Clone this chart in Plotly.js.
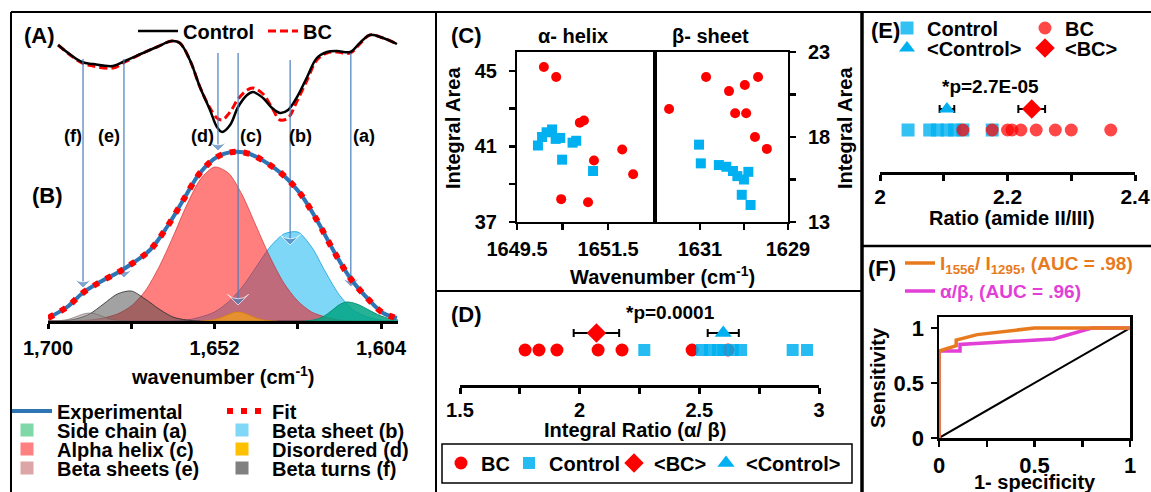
<!DOCTYPE html>
<html><head><meta charset="utf-8">
<script src="https://cdn.plot.ly/plotly-3.0.1.min.js"></script>
<style>html,body{margin:0;padding:0;background:#fff}#chart{width:1151px;height:492px}</style>
</head><body><div id="chart"></div>
<script>
// ================= DATA =================
// Panel A: spectra (wavenumber, relative height)
const specWn = [1697.1,1690.2,1687.0,1681.3,1677.8,1672.6,1668.6,1664.3,1662.0,1659.1,1656.2,1653.3,1651.3,1649.8,1647.5,1645.2,1642.6,1640.9,1638.0,1635.4,1633.1,1630.8,1628.2,1625.3,1622.5,1619.6,1616.7,1612.9,1610.1,1607.2,1603.4,1599.4];
const specControl = [95,78,76,74,79,87,93,99,97,80,53,30,13,8,15,33,45,48,42,32,27,30,43,63,82,88,89,88,97,105,102,96];
const specBC      = [95,77,74,72,78,87,93,99,97,80,53,32,22,20,28,41,50,52,46,32,20,22,39,60,80,87,88,87,96,105,102,96];

// Panel B: band fitting
const fitWn  = [1700,1694.5,1690,1685,1680.1,1675.5,1670.6,1665.7,1661,1656.2,1651.3,1646.7,1641.8,1636.9,1632.2,1627.4,1622.5,1617.8,1612.9,1608,1603.4,1599.4];
const expVal = [3,14,28,39,48,58,71,94,121,148,164,169,167,158,146,128,101,71,43,23,8,3];
const fitVal = [3,14,28,39,48,58,71,94,121,148,164,169,167,158,146,128,101,71,43,23,8,3];
const wnGrid = [1700,1696,1692,1688,1684,1680,1676,1672,1668,1664,1660,1656,1652,1648,1644,1640,1636,1632,1628,1624,1620,1616,1612,1608,1604,1600];
const alphaHelixC = [0,0,0,1,3,7,15,30,54,84,116,142,154,148,126,95,64,38,20,9,4,1,0,0,0,0];
const betaSheetB  = [0,0,0,0,0,0,0,0,0,0,1,4,9,19,34,54,74,87,89,74,49,26,11,4,1,0];
const betaTurnsBig = [0,0,2,7,17,27,30,22,12,4,1,0,0,0,0,0,0,0,0,0,0,0,0,0,0,0];
const smallWn  = [1700,1698,1696,1694,1692,1690,1688,1686,1684,1682,1680,1678,1676];
const smallVal = [0,0.1,0.6,1.8,4.2,6.8,8,6.8,4.2,1.8,0.6,0.1,0];
const sideWn  = [1626,1624,1622,1620,1618,1616,1614,1612,1610,1608,1606,1604,1602,1600,1599];
const sideVal = [0,0.7,2.3,5.7,11,16.3,19,18.1,15.6,11.9,8.2,5.0,2.8,1.4,1];
const disWn  = [1656,1654,1652,1650,1648,1646,1644,1642,1640,1638,1636,1634];
const disVal = [0,0.4,1.4,3.5,6.5,8.8,8.5,5.9,3.0,1.1,0.3,0];
const bandWn    = [1612.7,1630.2,1645.2,1651.0,1678.1,1689.9];
const bandLabel = ['(a)','(b)','(c)','(d)','(e)','(f)'];
const arrowTop  = [268,261,268,268,262,262];
const arrowTip  = [34,76,16,170,43,33];
const bTickVals = [1700,1652,1604];
const bTickText = ['1,700','1,652','1,604'];
const bMinorTicks = [1676,1628];

// Panel C
const cAlphaBCx = [1650.09,1650.36,1650.88,1650.97,1651.81,1651.19,1652.05,1650.47,1651.06];
const cAlphaBCy = [45.21,44.68,42.26,42.37,40.84,40.26,39.53,38.21,38.05];
const cAlphaCtrlx = [1649.96,1650.05,1650.15,1650.27,1650.35,1650.45,1650.72,1650.8,1650.49,1651.17];
const cAlphaCtrly = [41.05,41.5,41.75,41.9,41.4,41.45,41.2,41.3,40.3,39.7];
const cBetaBCx = [1631.70,1630.86,1630.34,1629.98,1629.68,1630.2,1629.95,1629.75,1629.48];
const cBetaBCy = [19.65,21.53,20.7,21.06,21.53,19.4,19.4,18.0,17.3];
const cBetaCtrlx = [1631.02,1630.98,1630.57,1630.4,1630.25,1630.15,1630.0,1629.9,1630.05,1629.85];
const cBetaCtrly = [17.55,16.45,16.35,16.25,16.0,15.7,15.5,15.95,14.6,14.0];
const cAlphaTicks = [1649.5,1651.5], cAlphaTickText = ['1649.5','1651.5'], cAlphaMinor = [1650.5];
const cBetaTicks = [1631,1629], cBetaTickText = ['1631','1629'], cBetaMinor = [1630];
const cLeftTicks = [37,41,45], cLeftTickText = ['37','41','45'], cLeftMinor = [39,43];
const cRightTicks = [13,18,23], cRightTickText = ['13','18','23'], cRightMinor = [15.5,20.5];

// Panel D
const dBC = [1.772,1.83,1.905,2.077,2.177,2.47,2.62];
const dCtrl = [2.27,2.511,2.545,2.578,2.60,2.64,2.674,2.89,2.95];
const dMeanBC = [2.07], dErrBC = [0.095];
const dMeanCtrl = [2.60], dErrCtrl = [0.065];
const dTicks = [1.5,2,2.5,3], dTickText = ['1.5','2','2.5','3'], dMinor = [1.75,2.25,2.75];

// Panel E
const eCtrl = [2.044,2.078,2.09,2.105,2.117,2.13,2.176];
const eBC = [2.13,2.176,2.20,2.207,2.221,2.245,2.275,2.30,2.362];
const eMeanCtrl = [2.105], eErrCtrl = [0.0115];
const eMeanBC = [2.238], eErrBC = [0.021];
const eTicks = [2,2.2,2.4], eTickText = ['2','2.2','2.4'], eMinor = [2.1,2.3];

// Panel F (ROC)
const rocRatioX = [0,0,0.09,0.09,0.2,0.5,1];
const rocRatioY = [0,0.79,0.84,0.89,0.94,1,1];
const rocAlphaBetaX = [0,0,0.11,0.11,0.6,0.8,1];
const rocAlphaBetaY = [0,0.79,0.79,0.85,0.9,1,1];
const rocChanceX = [0,1], rocChanceY = [0,1];
const fTicksX = [0,0.5,1], fTickTextX = ['0','0.5','1'], fMinorX = [0.25,0.75];
const fTicksY = [0,0.5,1], fTickTextY = ['0','0.5','1'];

// ================= LAYOUT HELPERS =================
const W = 1151, H = 492;
const FONT = 'Liberation Sans, Arial, Helvetica, sans-serif';
const fnt = (size, color) => ({family: FONT, size: size, color: color || '#000', weight: 'bold'});
const px = v => v / W, py = v => 1 - v / H;
const domX = (a, b) => [px(a), px(b)];
const domY = (bottom, top) => [py(bottom), py(top)];
const RED = '#FF0000', BLUE = '#00B0F0', ARROW = '#4A7EBB';
const ROW_POINTS = 1, ROW_MEAN = 2;

const layout = {
  width: W, height: H,
  margin: {l: 0, r: 0, t: 0, b: 0, pad: 0, autoexpand: false},
  paper_bgcolor: '#fff', plot_bgcolor: 'rgba(0,0,0,0)',
  showlegend: true, hovermode: false,
  annotations: [], shapes: []
};
function axisBase(o, minorVals) {
  const a = Object.assign({showgrid: false, zeroline: false, showline: true, linecolor: '#000',
    tickcolor: '#000', tickmode: 'array', fixedrange: true}, o);
  if (minorVals) a.minor = {tickmode: 'array', tickvals: minorVals, ticks: a.ticks, ticklen: a.ticklen, tickwidth: a.tickwidth, tickcolor: '#000', showgrid: false};
  return a;
}
layout.xaxis = axisBase({domain: domX(48, 398), range: [1700, 1599.1], anchor: 'y2', linewidth: 3,
  ticks: 'outside', ticklen: 5, tickwidth: 3, tickvals: bTickVals, ticktext: bTickText, tickfont: fnt(20), ticklabelstandoff: 2}, bMinorTicks);
layout.yaxis = {domain: domY(140, 30), range: [0, 110], visible: false, fixedrange: true};
// B axis spans up into panel A so the band arrows can start there
layout.yaxis2 = {domain: domY(321, 30), range: [0, 291], visible: false, fixedrange: true};

layout.xaxis2 = axisBase({domain: domX(517, 655), range: [1649.5, 1652.53], anchor: 'y3', linewidth: 2, mirror: true,
  ticks: 'outside', ticklen: 6, tickwidth: 2.5, tickvals: cAlphaTicks, ticktext: cAlphaTickText, tickfont: fnt(20), ticklabelstandoff: 2}, cAlphaMinor);
layout.yaxis3 = axisBase({domain: domY(222, 52), range: [37, 46], anchor: 'x2', linewidth: 2, mirror: true,
  ticks: 'outside', ticklen: 6, tickwidth: 2.5, tickvals: cLeftTicks, ticktext: cLeftTickText, tickfont: fnt(20), ticklabelstandoff: 8}, cLeftMinor);
layout.xaxis3 = axisBase({domain: domX(655, 788), range: [1632.02, 1629], anchor: 'y4', linewidth: 2, mirror: true,
  ticks: 'outside', ticklen: 6, tickwidth: 2.5, tickvals: cBetaTicks, ticktext: cBetaTickText, tickfont: fnt(20), ticklabelstandoff: 2}, cBetaMinor);
layout.yaxis4 = axisBase({domain: domY(222, 52), range: [13, 23], anchor: 'x3', side: 'right', linewidth: 2, mirror: true,
  ticks: 'outside', ticklen: 6, tickwidth: 2.5, tickvals: cRightTicks, ticktext: cRightTickText, tickfont: fnt(20), ticklabelstandoff: 8}, cRightMinor);

layout.xaxis4 = axisBase({domain: domX(460, 819), range: [1.5, 3], anchor: 'y5', linewidth: 3,
  ticks: 'outside', ticklen: 6, tickwidth: 3, tickvals: dTicks, ticktext: dTickText, tickfont: fnt(20), ticklabelstandoff: -1}, dMinor);
layout.yaxis5 = {domain: domY(385, 300), range: [-1.0588, 3.941], visible: false, fixedrange: true};

layout.xaxis5 = axisBase({domain: domX(880, 1135), range: [2, 2.4], anchor: 'y6', linewidth: 3,
  ticks: 'outside', ticklen: 6, tickwidth: 3, tickvals: eTicks, ticktext: eTickText, tickfont: fnt(21), ticklabelstandoff: -2}, eMinor);
layout.yaxis6 = {domain: domY(172, 60), range: [-1, 4.333], visible: false, fixedrange: true};

layout.xaxis6 = axisBase({domain: domX(939, 1130), range: [0, 1], anchor: 'y7', linewidth: 2.5, mirror: true, layer: 'below traces',
  ticks: 'outside', ticklen: 6, tickwidth: 2.5, tickvals: fTicksX, ticktext: fTickTextX, tickfont: fnt(22), ticklabelstandoff: 0}, fMinorX);
layout.yaxis7 = axisBase({domain: domY(438, 317), range: [0, 1.1], anchor: 'x6', linewidth: 2.5, mirror: true, layer: 'below traces',
  ticks: 'outside', ticklen: 6, tickwidth: 2.5, tickvals: fTicksY, ticktext: fTickTextY, tickfont: fnt(22), ticklabelstandoff: 2});

// twin axes give ticks that cross the axis line (inside half)
function twin(baseKey, newKey) {
  const b = layout[baseKey];
  const vals = b.tickvals.concat(b.minor ? b.minor.tickvals : []);
  layout[newKey] = {overlaying: baseKey.replace('axis', ''), anchor: b.anchor, side: b.side, range: b.range,
    tickmode: 'array', tickvals: vals, ticks: 'inside', ticklen: b.ticklen, tickwidth: b.tickwidth,
    tickcolor: '#000', showticklabels: false, showline: false, showgrid: false, zeroline: false, fixedrange: true};
}
twin('xaxis', 'xaxis7'); twin('xaxis2', 'xaxis8'); twin('xaxis3', 'xaxis9');
twin('yaxis3', 'yaxis8'); twin('yaxis4', 'yaxis9');
twin('xaxis4', 'xaxis10'); twin('xaxis5', 'xaxis11');

// per-item legends placed by text-left and row centre (px)
let legendN = 0;
function legendAt(textLeft, centerY, fs, itemwidth, color) {
  legendN++;
  const id = legendN === 1 ? 'legend' : 'legend' + legendN;
  const h = 1.3 * fs + 3;
  layout[id] = {x: (textLeft - itemwidth - 10) / W, y: 1 - (centerY - h / 2 - 5) / H, xanchor: 'left', yanchor: 'top',
    bgcolor: 'rgba(0,0,0,0)', borderwidth: 0, font: fnt(fs, color), itemwidth: itemwidth, orientation: 'v',
    itemclick: false, itemdoubleclick: false, tracegroupgap: 0};
  return id;
}

// ================= TRACES =================
const traces = [];
const add = t => traces.push(Object.assign({type: 'scatter', showlegend: false, hoverinfo: 'skip'}, t));

// Panel A
add({x: specWn, y: specBC, xaxis: 'x', yaxis: 'y', mode: 'lines', name: 'BC',
  line: {color: RED, width: 3, dash: '8px,4px', shape: 'spline'}, showlegend: true, legend: legendAt(303, 31, 20, 30)});
add({x: specWn, y: specControl, xaxis: 'x', yaxis: 'y', mode: 'lines', name: 'Control',
  line: {color: '#000', width: 2.5, shape: 'spline'}, showlegend: true, legend: legendAt(183, 31, 20, 40)});

// Panel B fills
const fills = [
  [wnGrid, betaSheetB, 'rgba(0,176,240,0.5)', 'rgba(0,150,220,0.7)'],
  [wnGrid, alphaHelixC, 'rgba(255,0,0,0.5)', 'rgba(200,30,30,0.6)'],
  [wnGrid, betaTurnsBig, 'rgba(70,70,70,0.5)', 'rgba(40,40,40,0.8)'],
  [smallWn, smallVal, 'rgba(150,135,135,0.5)', 'rgba(110,100,100,0.6)'],
  [sideWn, sideVal, 'rgba(0,165,130,0.85)', 'rgba(0,140,110,0.9)'],
  [disWn, disVal, 'rgba(255,170,0,0.6)', 'rgba(220,130,0,0.7)']
];
fills.forEach(([x, y, fc, lc]) => add({x, y, xaxis: 'x', yaxis: 'y2', mode: 'lines', fill: 'tozeroy', fillcolor: fc,
  line: {color: lc, width: 1, shape: 'spline', smoothing: 0.8}}));
// band arrows from panel A down to the components
bandWn.forEach((w, i) => add({x: [w, w], y: [arrowTop[i], arrowTip[i]], xaxis: 'x', yaxis: 'y2', mode: 'lines+markers',
  line: {color: ARROW, width: 1.2}, marker: {symbol: 'arrow-wide', size: [0, 15], angleref: 'previous', color: ARROW}, cliponaxis: false}));
add({x: fitWn, y: expVal, xaxis: 'x', yaxis: 'y2', mode: 'lines', name: 'Experimental',
  line: {color: '#2E75B6', width: 4, shape: 'spline'}, showlegend: true, legend: legendAt(57, 411, 20, 40)});
add({x: fitWn, y: fitVal, xaxis: 'x', yaxis: 'y2', mode: 'lines', name: 'Fit',
  line: {color: RED, width: 6, dash: '6px,8px', shape: 'spline'}, showlegend: true, legend: legendAt(272, 411, 20, 40)});
const swatches = [
  ['Side chain (a)', '#80D8A8', 57, 430], ['Beta sheet (b)', '#80D8F6', 272, 430],
  ['Alpha helix (c)', '#FF8080', 57, 449], ['Disordered (d)', '#FFC000', 272, 449],
  ['Beta sheets (e)', '#DDA6A6', 57, 468], ['Beta turns (f)', '#808080', 272, 468]
];
swatches.forEach(([name, color, tl, cy]) => add({x: [null], y: [null], xaxis: 'x', yaxis: 'y2', mode: 'markers', name,
  marker: {symbol: 'square', size: 13, color}, showlegend: true, legend: legendAt(tl, cy, 20, 50)}));

// Panel C
add({x: cAlphaCtrlx, y: cAlphaCtrly, xaxis: 'x2', yaxis: 'y3', mode: 'markers', marker: {symbol: 'square', size: 10, color: BLUE}});
add({x: cAlphaBCx, y: cAlphaBCy, xaxis: 'x2', yaxis: 'y3', mode: 'markers', marker: {symbol: 'circle', size: 10, color: RED}});
add({x: cBetaCtrlx, y: cBetaCtrly, xaxis: 'x3', yaxis: 'y4', mode: 'markers', marker: {symbol: 'square', size: 10, color: BLUE}});
add({x: cBetaBCx, y: cBetaBCy, xaxis: 'x3', yaxis: 'y4', mode: 'markers', marker: {symbol: 'circle', size: 10, color: RED}});

// Panel D
add({x: dBC, y: dBC.map(() => ROW_POINTS), xaxis: 'x4', yaxis: 'y5', mode: 'markers', name: 'BC',
  marker: {symbol: 'circle', size: 13, color: RED}, showlegend: true, legend: legendAt(481, 463, 20, 30)});
add({x: dCtrl, y: dCtrl.map(() => ROW_POINTS), xaxis: 'x4', yaxis: 'y5', mode: 'markers', name: 'Control',
  marker: {symbol: 'square', size: 12, color: BLUE, opacity: 0.85}, showlegend: true, legend: legendAt(549, 463, 20, 30)});
add({x: dMeanBC, y: dMeanBC.map(() => ROW_MEAN), xaxis: 'x4', yaxis: 'y5', mode: 'markers', name: '<BC>',
  error_x: {type: 'data', array: dErrBC, color: '#000', thickness: 2, width: 4},
  marker: {symbol: 'diamond', size: 15, color: RED}, showlegend: true, legend: legendAt(654, 463, 20, 30)});
add({x: dMeanCtrl, y: dMeanCtrl.map(() => ROW_MEAN), xaxis: 'x4', yaxis: 'y5', mode: 'markers', name: '<Control>',
  error_x: {type: 'data', array: dErrCtrl, color: '#000', thickness: 2, width: 4},
  marker: {symbol: 'triangle-up', size: 15, color: BLUE}, showlegend: true, legend: legendAt(746, 463, 20, 30)});

// Panel E
add({x: eCtrl, y: eCtrl.map(() => ROW_POINTS), xaxis: 'x5', yaxis: 'y6', mode: 'markers', name: 'Control',
  marker: {symbol: 'square', size: 13, color: BLUE, opacity: 0.8}, showlegend: true, legend: legendAt(927, 28, 20, 30)});
add({x: eBC, y: eBC.map(() => ROW_POINTS), xaxis: 'x5', yaxis: 'y6', mode: 'markers', name: 'BC',
  marker: {symbol: 'circle', size: 13, color: RED, opacity: 0.72}, showlegend: true, legend: legendAt(1065, 28, 20, 30)});
add({x: eMeanCtrl, y: eMeanCtrl.map(() => ROW_MEAN), xaxis: 'x5', yaxis: 'y6', mode: 'markers', name: '<Control>',
  error_x: {type: 'data', array: eErrCtrl, color: '#000', thickness: 2, width: 4},
  marker: {symbol: 'triangle-up', size: 14, color: BLUE}, showlegend: true, legend: legendAt(927, 48, 20, 30)});
add({x: eMeanBC, y: eMeanBC.map(() => ROW_MEAN), xaxis: 'x5', yaxis: 'y6', mode: 'markers', name: '<BC>',
  error_x: {type: 'data', array: eErrBC, color: '#000', thickness: 2, width: 4},
  marker: {symbol: 'diamond', size: 15, color: RED}, showlegend: true, legend: legendAt(1065, 48, 20, 30)});

// Panel F
add({x: rocChanceX, y: rocChanceY, xaxis: 'x6', yaxis: 'y7', mode: 'lines', line: {color: '#000', width: 2}});
add({x: rocAlphaBetaX, y: rocAlphaBetaY, xaxis: 'x6', yaxis: 'y7', mode: 'lines', name: 'α/β, (AUC = .96)',
  line: {color: '#E23FD6', width: 3.5}, showlegend: true, legend: legendAt(940, 291, 19, 30, '#E23FD6')});
add({x: rocRatioX, y: rocRatioY, xaxis: 'x6', yaxis: 'y7', mode: 'lines', name: 'I<sub>1556</sub>/ I<sub>1295</sub>, (AUC = .98)',
  line: {color: '#E87A1E', width: 3.5}, showlegend: true, legend: legendAt(940, 263, 19, 30, '#E87A1E')});

// ================= ANNOTATIONS =================
const ann = (text, x, y, size, extra) => layout.annotations.push(Object.assign({text, x: px(x), y: py(y), xref: 'paper', yref: 'paper',
  showarrow: false, font: fnt(size), xanchor: 'center', yanchor: 'middle'}, extra || {}));
ann('(A)', 39, 35, 22); ann('(B)', 47, 195, 22);
const labelPos = [[364,136],[300,136],[251,136],[202,136],[109,136],[73,136]];
bandLabel.forEach((t, i) => ann(t, labelPos[i][0], labelPos[i][1], 18));
ann('wavenumber (cm<sup>-1</sup>)', 223, 375, 20);
ann('(C)', 466, 35, 22); ann('α- helix', 573, 36, 20); ann('β- sheet', 710, 36, 20);
ann('Integral Area', 453, 128, 20, {textangle: -90}); ann('Integral Area', 845, 128, 20, {textangle: -90});
ann('Wavenumber (cm<sup>-1</sup>)', 662, 275, 20);
ann('(D)', 466, 314, 22); ann('*p=0.0001', 670, 312, 19);
ann('Integral Ratio (α/ β)', 635, 430, 20);
ann('(E)', 885, 31, 22); ann('*p=2.7E-05', 990, 86, 19);
ann('Ratio (amide II/III)', 1012, 218, 20);
ann('(F)', 882, 268, 22); ann('Sensitivity', 878, 378, 20, {textangle: -90});
ann('1- specificity', 1035, 482, 20);

// ================= PANEL FRAMES =================
const pl = (x0, y0, x1, y1, w) => layout.shapes.push({type: 'line', xref: 'paper', yref: 'paper', x0: px(x0), y0: py(y0), x1: px(x1), y1: py(y1), line: {color: '#000', width: w}});
pl(11, 12, 1151, 12, 2); pl(11, 12, 11, 492, 2); pl(436, 12, 436, 492, 2); pl(862, 12, 862, 492, 3.5);
pl(436, 291, 862, 291, 2); pl(862, 246, 1151, 246, 2.5);
layout.shapes.push({type: 'rect', xref: 'paper', yref: 'paper', x0: px(442), x1: px(852), y0: py(483), y1: py(444), line: {color: '#000', width: 1.5}});

Plotly.newPlot('chart', traces, layout, {staticPlot: true, displayModeBar: false});
</script></body></html>
